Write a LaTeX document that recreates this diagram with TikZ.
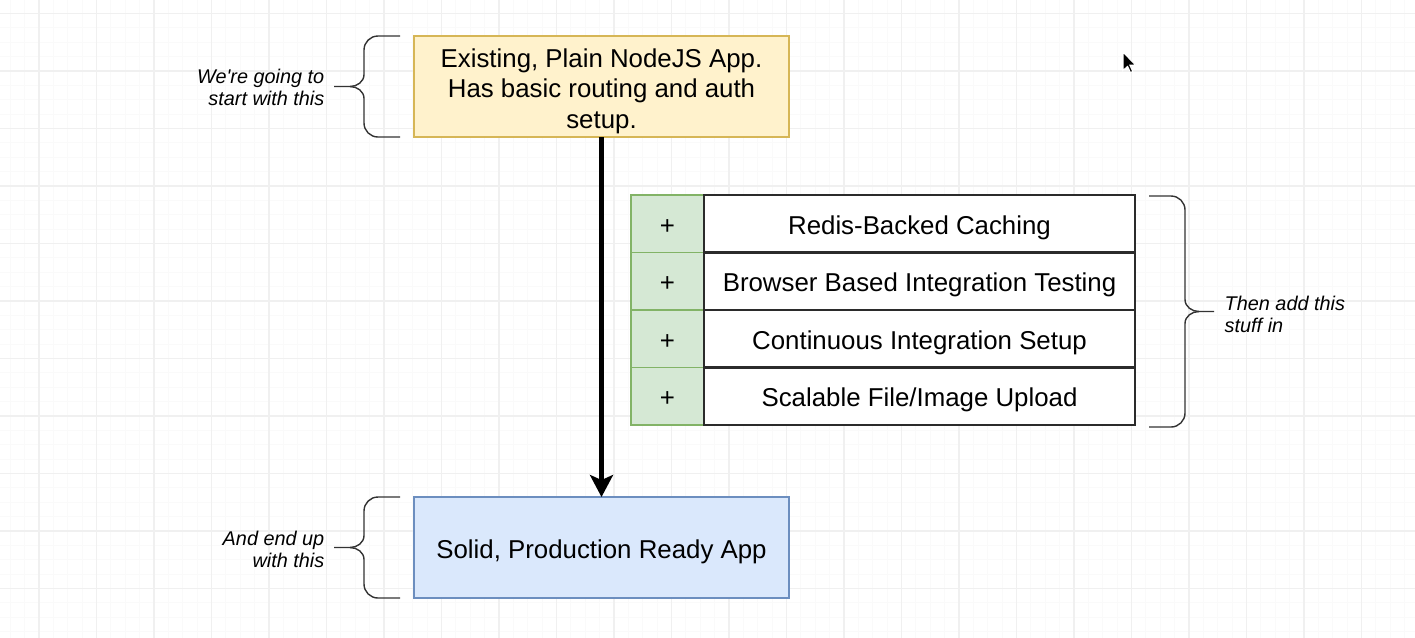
\documentclass[tikz,border=0pt]{standalone}
\usepackage{fontspec}
\setmainfont{Liberation Sans}
\usepackage{tikz}
\usetikzlibrary{calc}
\usetikzlibrary{positioning}
\usetikzlibrary{arrows.meta}

\definecolor{startfill}{HTML}{FFF2CC}
\definecolor{startline}{HTML}{D6B656}
\definecolor{endfill}{HTML}{DAE8FC}
\definecolor{endline}{HTML}{6C8EBF}
\definecolor{plusfill}{HTML}{D5E8D4}
\definecolor{plusline}{HTML}{82B366}
\definecolor{itemline}{HTML}{2B2B2B}

\tikzset{
  majorgrid/.style={draw=black!6,line width=0.4pt},
  minorgrid/.style={draw=black!2,line width=0.3pt},
  appbox/.style={line width=0.35pt,minimum width=3.75cm,minimum height=1.01cm,
    align=center,inner sep=0pt,outer sep=0pt,font=\fontsize{7.35}{8.6}\selectfont},
  oneline/.style={text height=6.1pt,text depth=0pt},
  plusbox/.style={draw=plusline,fill=plusfill,line width=0.45pt,minimum width=0.73cm,
    minimum height=0.575cm,inner sep=0pt,outer sep=0pt,oneline,
    font=\fontsize{7.35}{8.6}\selectfont},
  itembox/.style={draw=itemline,fill=white,line width=0.6pt,minimum width=4.31cm,
    minimum height=0.575cm,inner sep=0pt,outer sep=0pt,oneline,
    font=\fontsize{7.35}{8.6}\selectfont},
  note/.style={inner sep=0pt,font=\fontsize{5.65}{6.25}\selectfont\itshape},
  curl/.style={draw=black!80,line width=0.4pt},
  flow/.style={-{Stealth[length=2.2mm,width=2.3mm,inset=0.5mm]},line width=1.15pt}
}

\begin{document}
\begin{tikzpicture}
      \useasboundingbox (0,0) rectangle (14.15,-6.37);
      \fill[white] (0,0) rectangle (14.15,-6.37);

      % background grid
      \begin{scope}[shift={(0.39,-0.135)}]
        \draw[minorgrid,step=0.14375] (-0.575,0.575) grid (13.8,-6.9);
        \draw[majorgrid,step=0.575] (-0.575,0.575) grid (13.8,-6.9);
      \end{scope}

      % the two apps
      \node[appbox,draw=startline,fill=startfill] (app) at (6.015,-0.865)
        {\rule{0pt}{8pt}Existing, Plain NodeJS App.\\Has basic routing and auth\\setup.};
      \node[appbox,oneline,draw=endline,fill=endfill] (prod) at (6.015,-5.475)
        {Solid, Production Ready App};
      \draw[flow] (app) -- (prod);

      % stuff to add
      \node[plusbox] (p1) at (6.675,-2.2375) {+};
      \node[itembox,right=0pt of p1] (i1) {Redis-Backed Caching};
      \foreach \n/\prev/\txt in {2/1/{Browser Based Integration Testing},
                                 3/2/{Continuous Integration Setup},
                                 4/3/{Scalable File/Image Upload}}{
        \node[plusbox,below=0pt of p\prev] (p\n) {+};
        \node[itembox,right=0pt of p\n] (i\n) {\txt};
      }

      % braces
      \draw[curl] (4.00,-0.36) -- (3.78,-0.36) to[out=180,in=90] (3.64,-0.50)
        -- (3.64,-0.745) to[out=-90,in=0] (3.50,-0.865) -- (3.34,-0.865);
      \draw[curl] (3.50,-0.865) to[out=0,in=90] (3.64,-0.985)
        -- (3.64,-1.23) to[out=-90,in=180] (3.78,-1.37) -- (4.00,-1.37);
      \draw[curl] (4.00,-4.97) -- (3.78,-4.97) to[out=180,in=90] (3.64,-5.11)
        -- (3.64,-5.355) to[out=-90,in=0] (3.50,-5.475) -- (3.34,-5.475);
      \draw[curl] (3.50,-5.475) to[out=0,in=90] (3.64,-5.595)
        -- (3.64,-5.84) to[out=-90,in=180] (3.78,-5.98) -- (4.00,-5.98);
      \draw[curl] (11.49,-1.96) -- (11.71,-1.96) to[out=0,in=90] (11.85,-2.10)
        -- (11.85,-2.995) to[out=-90,in=180] (11.99,-3.115) -- (12.14,-3.115);
      \draw[curl] (11.99,-3.115) to[out=180,in=90] (11.85,-3.235)
        -- (11.85,-4.13) to[out=-90,in=0] (11.71,-4.27) -- (11.49,-4.27);

      \node[note,anchor=east,align=right] (begin) at (3.25,-0.875)
        {We\textquotesingle re going to\\start with this};
      \node[note,anchor=east,align=right] (finish) at (3.25,-5.49)
        {And end up\\with this};
      \node[note,anchor=west,align=left] (then) at (12.24,-3.14)
        {Then add this\\stuff in};

      % mouse pointer
      \begin{scope}[shift={(11.23,-0.52)},scale=1.15]
        \filldraw[fill=black,draw=white,line width=0.3pt] (0,0) -- (0,-0.16)
          -- (0.04,-0.125) -- (0.065,-0.18) -- (0.085,-0.17) -- (0.06,-0.115)
          -- (0.11,-0.115) -- cycle;
      \end{scope}
    \end{tikzpicture}
\end{document}
